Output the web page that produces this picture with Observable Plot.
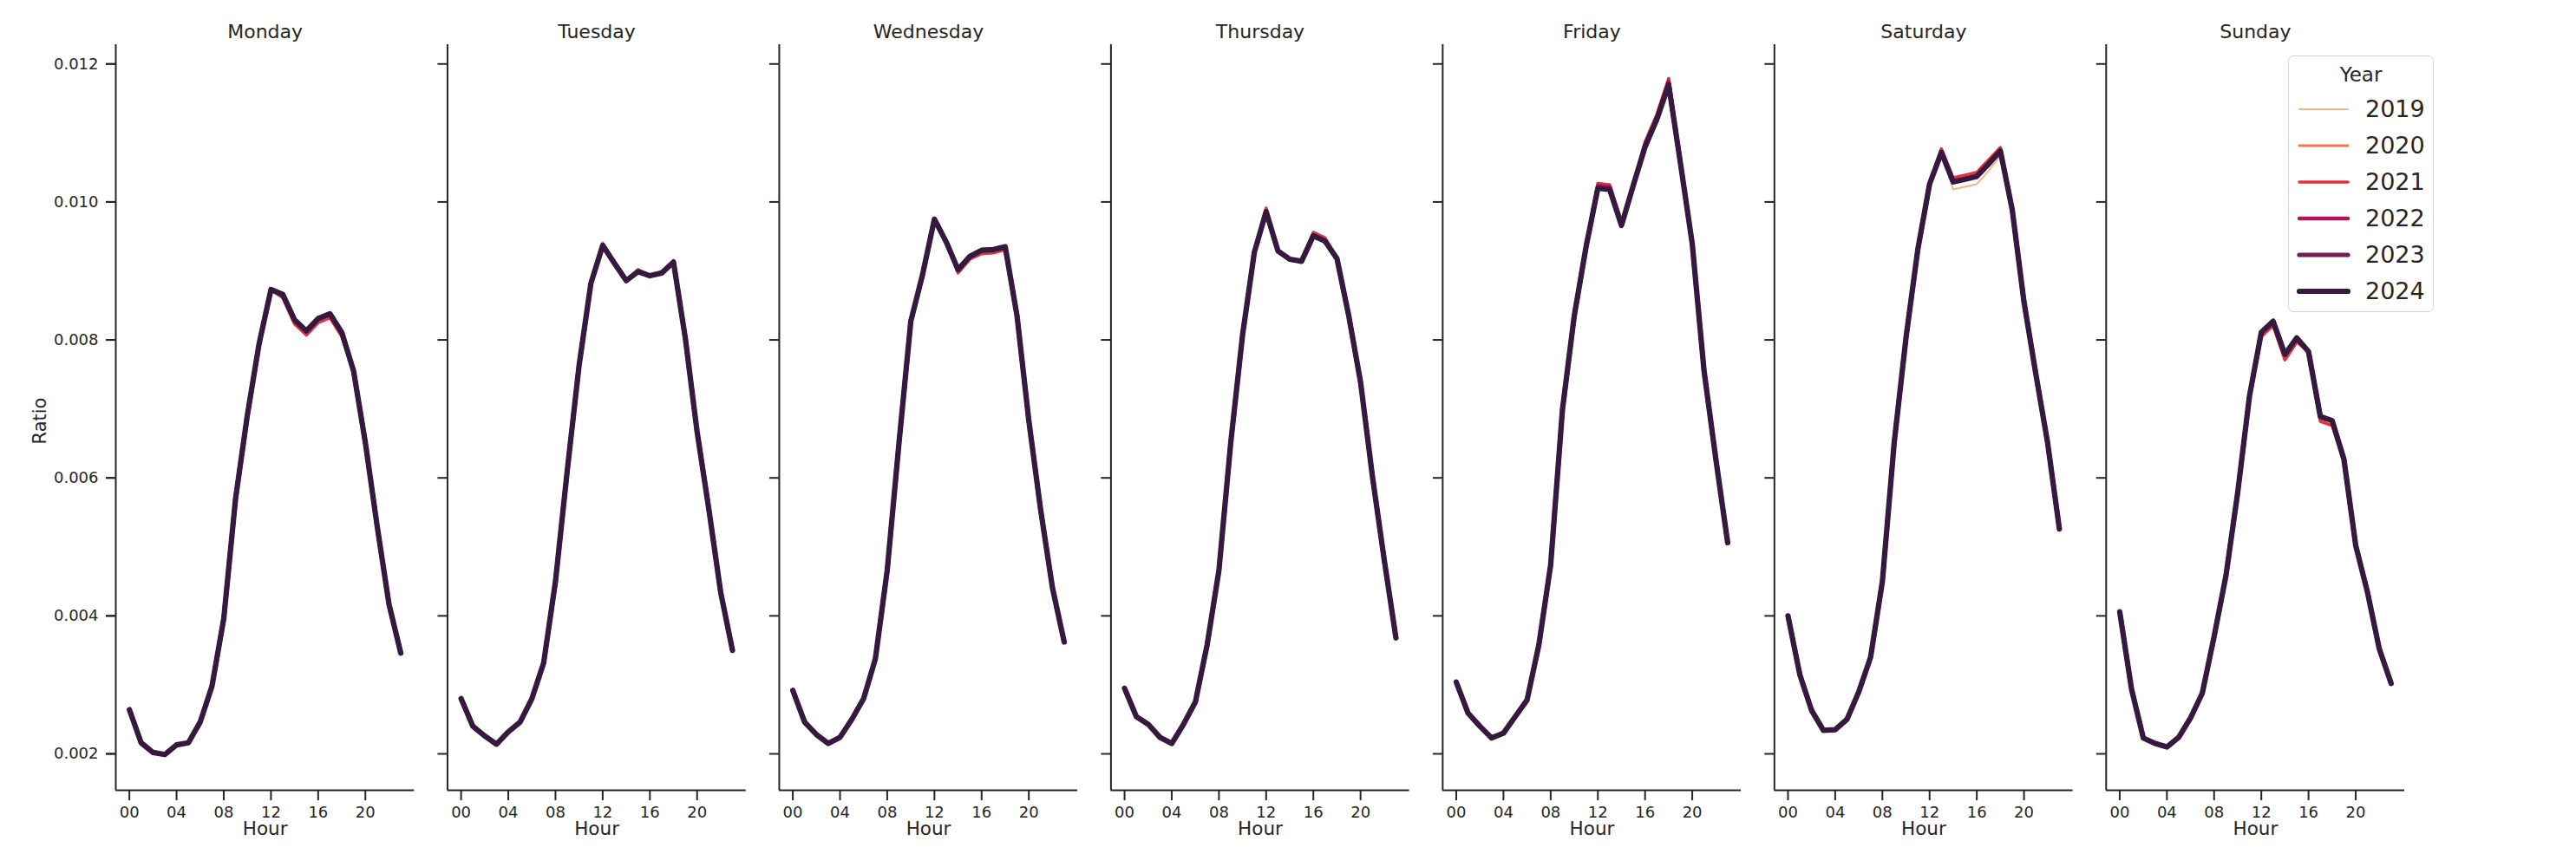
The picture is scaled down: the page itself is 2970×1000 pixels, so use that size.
<!DOCTYPE html>
<html>
<head>
<meta charset="utf-8">
<script src="https://cdn.jsdelivr.net/npm/d3@7"></script>
<script src="https://cdn.jsdelivr.net/npm/@observablehq/plot@0.6"></script>
<style>
  html, body { margin: 0; padding: 0; background: #fff; }
  #wrap { position: relative; width: 2970px; height: 1000px; font-family: "DejaVu Sans", sans-serif; color: #262626; }
  #legend { position: absolute; left: 2638px; top: 64px; width: 166px; height: 294px; border: 1.5px solid #d6d6d6; border-radius: 6px; background: rgba(255,255,255,0.85); box-sizing: content-box; }
  #legend .title { position: absolute; left: 0; width: 100%; top: 8px; text-align: center; font-size: 23px; line-height: 26px; }
  #legend .item { position: absolute; left: 0; width: 100%; height: 30px; }
  #legend .item svg { position: absolute; left: 8px; top: 5px; }
  #legend .item span { position: absolute; left: 88px; top: -2px; font-size: 27px; line-height: 34px; }
</style>
</head>
<body>
<div id="wrap"></div>
<script>
// ---- data ----
const days = ["Monday", "Tuesday", "Wednesday", "Thursday", "Friday", "Saturday", "Sunday"];
const years = ["2019", "2020", "2021", "2022", "2023", "2024"];
const hours = [0, 1, 2, 3, 4, 5, 6, 7, 8, 9, 10, 11, 12, 13, 14, 15, 16, 17, 18, 19, 20, 21, 22, 23];
const hourTicks = [0, 4, 8, 12, 16, 20];
const ratioTicks = [0.002, 0.004, 0.006, 0.008, 0.010, 0.012];

// Ratio by hour for 2024 (the other years coincide except where listed below)
const monday    = [0.00264, 0.00216, 0.00202, 0.00199, 0.00213, 0.00216, 0.00246, 0.00298, 0.00396, 0.00570, 0.00691, 0.00795, 0.00873, 0.00866, 0.00829, 0.00813, 0.00831, 0.00838, 0.00811, 0.00755, 0.00651, 0.00530, 0.00417, 0.00346];
const tuesday   = [0.00280, 0.00240, 0.00226, 0.00214, 0.00232, 0.00246, 0.00280, 0.00332, 0.00450, 0.00611, 0.00763, 0.00882, 0.00937, 0.00911, 0.00886, 0.00899, 0.00893, 0.00897, 0.00913, 0.00803, 0.00667, 0.00554, 0.00434, 0.00350];
const wednesday = [0.00292, 0.00246, 0.00228, 0.00215, 0.00224, 0.00250, 0.00280, 0.00338, 0.00466, 0.00651, 0.00827, 0.00895, 0.00975, 0.00942, 0.00902, 0.00921, 0.00930, 0.00931, 0.00935, 0.00835, 0.00683, 0.00554, 0.00441, 0.00362];
const thursday  = [0.00295, 0.00254, 0.00243, 0.00224, 0.00215, 0.00243, 0.00275, 0.00358, 0.00466, 0.00651, 0.00807, 0.00927, 0.00986, 0.00929, 0.00917, 0.00914, 0.00951, 0.00943, 0.00918, 0.00835, 0.00739, 0.00603, 0.00482, 0.00368];
const friday    = [0.00304, 0.00259, 0.00240, 0.00223, 0.00230, 0.00254, 0.00278, 0.00358, 0.00474, 0.00699, 0.00835, 0.00935, 0.01020, 0.01018, 0.00966, 0.01024, 0.01080, 0.01120, 0.01170, 0.01056, 0.00939, 0.00755, 0.00627, 0.00506];
const saturday  = [0.00400, 0.00315, 0.00263, 0.00234, 0.00235, 0.00250, 0.00290, 0.00340, 0.00450, 0.00651, 0.00803, 0.00931, 0.01026, 0.01072, 0.01029, 0.01033, 0.01037, 0.01055, 0.01074, 0.00989, 0.00855, 0.00751, 0.00651, 0.00526];
const sunday    = [0.00406, 0.00294, 0.00223, 0.00215, 0.00210, 0.00224, 0.00252, 0.00288, 0.00370, 0.00458, 0.00579, 0.00719, 0.00811, 0.00827, 0.00779, 0.00803, 0.00783, 0.00689, 0.00683, 0.00627, 0.00502, 0.00434, 0.00352, 0.00302];

// visible departures of earlier years: [year, day, hour, ratio]
const departures = [
  ["2021", "Monday", 13, 0.00861], ["2021", "Monday", 14, 0.00823], ["2021", "Monday", 15, 0.00807],
  ["2021", "Monday", 16, 0.00825], ["2021", "Monday", 17, 0.00832], ["2021", "Monday", 18, 0.00805],
  ["2020", "Tuesday", 12, 0.00941], ["2020", "Tuesday", 15, 0.00903],
  ["2021", "Wednesday", 14, 0.00897], ["2021", "Wednesday", 15, 0.00917], ["2021", "Wednesday", 16, 0.00925],
  ["2021", "Wednesday", 17, 0.00926], ["2021", "Wednesday", 18, 0.00931],
  ["2021", "Thursday", 12, 0.00991], ["2021", "Thursday", 16, 0.00956], ["2021", "Thursday", 17, 0.00948],
  ["2021", "Friday", 12, 0.01027], ["2021", "Friday", 13, 0.01025], ["2021", "Friday", 14, 0.00972],
  ["2021", "Friday", 16, 0.01087], ["2021", "Friday", 17, 0.01127], ["2021", "Friday", 18, 0.01179],
  ["2022", "Friday", 12, 0.01024], ["2022", "Friday", 13, 0.01022], ["2022", "Friday", 18, 0.01175],
  ["2019", "Saturday", 14, 0.01018], ["2019", "Saturday", 15, 0.01022], ["2019", "Saturday", 16, 0.01026],
  ["2019", "Saturday", 17, 0.01045], ["2019", "Saturday", 18, 0.01067],
  ["2021", "Saturday", 13, 0.01077], ["2021", "Saturday", 14, 0.01035], ["2021", "Saturday", 15, 0.01039],
  ["2021", "Saturday", 16, 0.01043], ["2021", "Saturday", 17, 0.01061], ["2021", "Saturday", 18, 0.01079],
  ["2021", "Sunday", 12, 0.00805], ["2021", "Sunday", 13, 0.00821], ["2021", "Sunday", 14, 0.00771],
  ["2021", "Sunday", 15, 0.00797], ["2021", "Sunday", 17, 0.00682], ["2021", "Sunday", 18, 0.00676],
  ["2020", "Sunday", 14, 0.00773], ["2020", "Sunday", 17, 0.00684]
];

// ---- styles ----
const palette = ["#f6b48f", "#f37651", "#e13342", "#ad1759", "#701f57", "#35193e"];
const lineWidths = [2, 2.8, 3.6, 4.4, 5.2, 6.2];
const ink = "#262626";

// ---- build table ----
const byDay = {Monday: monday, Tuesday: tuesday, Wednesday: wednesday, Thursday: thursday, Friday: friday, Saturday: saturday, Sunday: sunday};
const depMap = new Map(departures.map(([y, d, h, v]) => [`${y}|${d}|${h}`, v]));
const rows = [];
for (const year of years) {
  for (const day of days) {
    for (const hour of hours) {
      const k = `${year}|${day}|${hour}`;
      rows.push({year, day, hour, ratio: depMap.has(k) ? depMap.get(k) : byDay[day][hour]});
    }
  }
}
const widthOf = Object.fromEntries(years.map((y, i) => [y, lineWidths[i]]));

const xDomain = [-1.15, 24.15];
const yDomain = [0.001472, 0.01228];

const chart = Plot.plot({
  width: 2970,
  height: 1000,
  marginTop: 51,
  marginBottom: 89,
  marginLeft: 133,
  marginRight: 198,
  style: {fontFamily: "DejaVu Sans, sans-serif", fontSize: "18px", color: ink, background: "#fff"},
  fx: {domain: days, paddingInner: 0.1, paddingOuter: 0, round: false, label: null, axis: null},
  x: {domain: xDomain, label: null},
  y: {domain: yDomain, label: null},
  color: {domain: years, range: palette},
  marks: [
    Plot.axisFx({anchor: "top", label: null, tickSize: 0, tickPadding: 8, fontSize: 22, fill: ink}),
    Plot.ruleX([xDomain[0]], {stroke: ink, strokeWidth: 2}),
    Plot.ruleY([yDomain[0]], {stroke: ink, strokeWidth: 2}),
    Plot.axisY({ticks: ratioTicks, tickFormat: d3.format(".3f"), tickSize: 11, tickPadding: 9, strokeWidth: 2, stroke: ink, fill: ink, label: null, fontSize: 18}),
    Plot.axisY({ticks: ratioTicks, tickFormat: () => "", tickSize: 11, strokeWidth: 2, stroke: ink, label: null, facetAnchor: null}),
    Plot.axisX({ticks: hourTicks, tickFormat: d => String(d).padStart(2, "0"), tickSize: 12, tickPadding: 7, strokeWidth: 2, stroke: ink, fill: ink, label: null, fontSize: 18}),
    Plot.text(["Hour"], {frameAnchor: "bottom", dy: 51, fontSize: 21.5, fill: ink}),
    Plot.text([days[0]], {fx: d => d, text: () => "Ratio", frameAnchor: "left", textAnchor: "middle", rotate: -90, dx: -87, dy: 4, fontSize: 21, fill: ink}),
    Plot.line(rows, {fx: "day", x: "hour", y: "ratio", z: "year", stroke: "year", strokeWidth: d => widthOf[d.year], strokeLinejoin: "round", strokeLinecap: "round"})
  ]
});

const wrap = document.getElementById("wrap");
wrap.appendChild(chart);

// ---- legend ----
const legend = document.createElement("div");
legend.id = "legend";
const title = document.createElement("div");
title.className = "title";
title.textContent = "Year";
legend.appendChild(title);
years.forEach((y, i) => {
  const item = document.createElement("div");
  item.className = "item";
  item.style.top = (46 + i * 42) + "px";
  item.innerHTML = `<svg width="64" height="20"><line x1="4" x2="60" y1="10" y2="10" stroke="${palette[i]}" stroke-width="${lineWidths[i]}" stroke-linecap="round"/></svg><span>${y}</span>`;
  legend.appendChild(item);
});
wrap.appendChild(legend);
</script>
</body>
</html>
